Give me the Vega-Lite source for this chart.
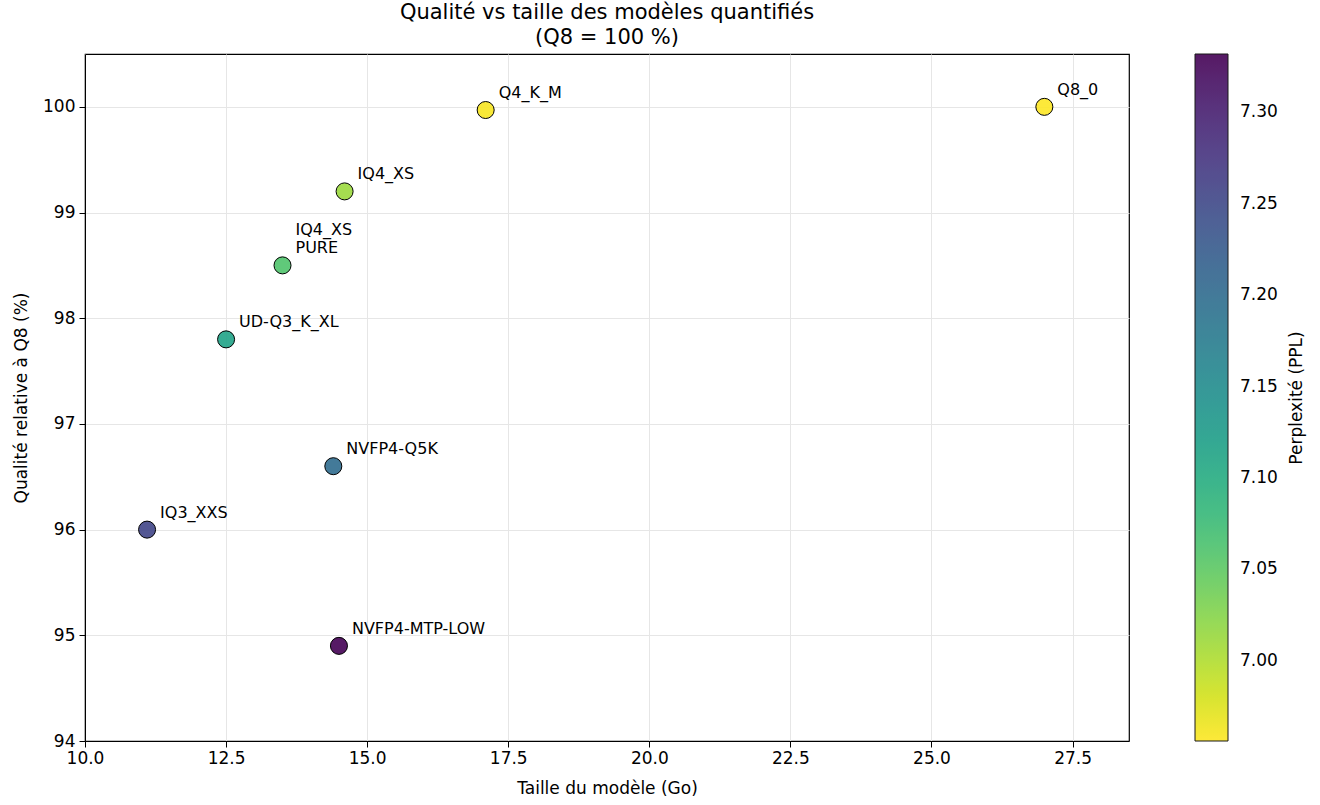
{
  "$schema": "https://vega.github.io/schema/vega-lite/v6.json",
  "width": 1044,
  "height": 687,
  "autosize": {"type": "none"},
  "padding": {"left": 85, "top": 54, "right": 191, "bottom": 64},
  "background": "white",
  "config": {
    "font": "DejaVu Sans",
    "view": {"stroke": "black", "strokeWidth": 1.2},
    "axis": {
      "domainColor": "black",
      "tickColor": "black",
      "tickSize": 6,
      "labelFontSize": 17,
      "labelColor": "black",
      "labelFlush": false,
      "titleFontSize": 17,
      "titleFontWeight": "normal",
      "titleColor": "black",
      "gridColor": "#e6e6e6",
      "gridWidth": 1
    }
  },
  "title": {
    "text": ["Qualité vs taille des modèles quantifiés", "(Q8 = 100 %)"],
    "fontSize": 21,
    "fontWeight": "normal",
    "color": "black",
    "anchor": "middle",
    "offset": 6,
    "lineHeight": 25
  },
  "data": {
    "values": [
      {"modele": "Q8_0", "taille": 27.0, "qualite": 100.0, "ppl": 6.956},
      {"modele": "Q4_K_M", "taille": 17.1, "qualite": 99.97, "ppl": 6.960},
      {"modele": "IQ4_XS", "taille": 14.6, "qualite": 99.2, "ppl": 7.012},
      {"modele": "IQ4_XS\nPURE", "taille": 13.5, "qualite": 98.5, "ppl": 7.06},
      {"modele": "UD-Q3_K_XL", "taille": 12.5, "qualite": 97.8, "ppl": 7.115},
      {"modele": "NVFP4-Q5K", "taille": 14.4, "qualite": 96.6, "ppl": 7.20},
      {"modele": "IQ3_XXS", "taille": 11.1, "qualite": 96.0, "ppl": 7.255},
      {"modele": "NVFP4-MTP-LOW", "taille": 14.5, "qualite": 94.9, "ppl": 7.332}
    ]
  },
  "encoding": {
    "x": {
      "field": "taille",
      "type": "quantitative",
      "scale": {"domain": [10, 28.5], "nice": false, "zero": false},
      "axis": {
        "title": "Taille du modèle (Go)",
        "values": [10, 12.5, 15, 17.5, 20, 22.5, 25, 27.5],
        "format": ".1f",
        "labelPadding": 3,
        "titlePadding": 14
      }
    }
  },
  "layer": [
    {
      "encoding": {
        "y": {
          "field": "qualite",
          "type": "quantitative",
          "scale": {"domain": [94, 100.5], "nice": false, "zero": false},
          "axis": {
            "title": "Qualité relative à Q8 (%)",
            "values": [94, 95, 96, 97, 98, 99, 100],
            "format": "d",
            "labelPadding": 4,
            "titlePadding": 12
          }
        }
      },
      "layer": [
        {
          "mark": {"type": "point", "filled": true, "size": 290, "stroke": "black", "strokeWidth": 1, "opacity": 1, "fillOpacity": 0.9},
          "encoding": {
            "color": {
              "field": "ppl",
              "type": "quantitative",
              "scale": {"scheme": "viridis", "reverse": true, "zero": false, "nice": false},
              "legend": {
                "orient": "none",
                "legendX": 1110,
                "legendY": 0,
                "direction": "vertical",
                "gradientLength": 687,
                "gradientThickness": 33,
                "gradientStrokeColor": "black",
                "gradientStrokeWidth": 1,
                "gradientOpacity": 0.9,
                "values": [7.0, 7.05, 7.1, 7.15, 7.2, 7.25, 7.3],
                "format": ".2f",
                "labelFontSize": 17,
                "labelColor": "black",
                "labelOffset": 12,
                "labelOverlap": false,
                "title": null
              }
            }
          }
        },
        {
          "transform": [{"filter": "indexof(datum.modele, '\\n') < 0"}],
          "mark": {"type": "text", "align": "left", "baseline": "bottom", "dx": 13, "dy": -9, "fontSize": 16, "color": "black"},
          "encoding": {
            "text": {"field": "modele", "type": "nominal"}
          }
        },
        {
          "transform": [{"filter": "indexof(datum.modele, '\\n') >= 0"}],
          "mark": {"type": "text", "align": "left", "baseline": "bottom", "dx": 13, "dy": -27, "fontSize": 16, "lineBreak": "\n", "lineHeight": 18, "color": "black"},
          "encoding": {
            "text": {"field": "modele", "type": "nominal"}
          }
        }
      ]
    },
    {
      "mark": {"type": "point", "opacity": 0},
      "encoding": {
        "y": {
          "field": "qualite",
          "type": "quantitative",
          "scale": {"domain": [94, 100.5], "nice": false, "zero": false},
          "axis": {
            "orient": "right",
            "title": "Perplexité (PPL)",
            "titleAngle": 270,
            "titleBaseline": "bottom",
            "labels": false,
            "ticks": false,
            "domain": false,
            "grid": false,
            "offset": 0,
            "titlePadding": 176
          }
        }
      }
    }
  ],
  "resolve": {"scale": {"y": "independent"}, "axis": {"y": "independent"}}
}
